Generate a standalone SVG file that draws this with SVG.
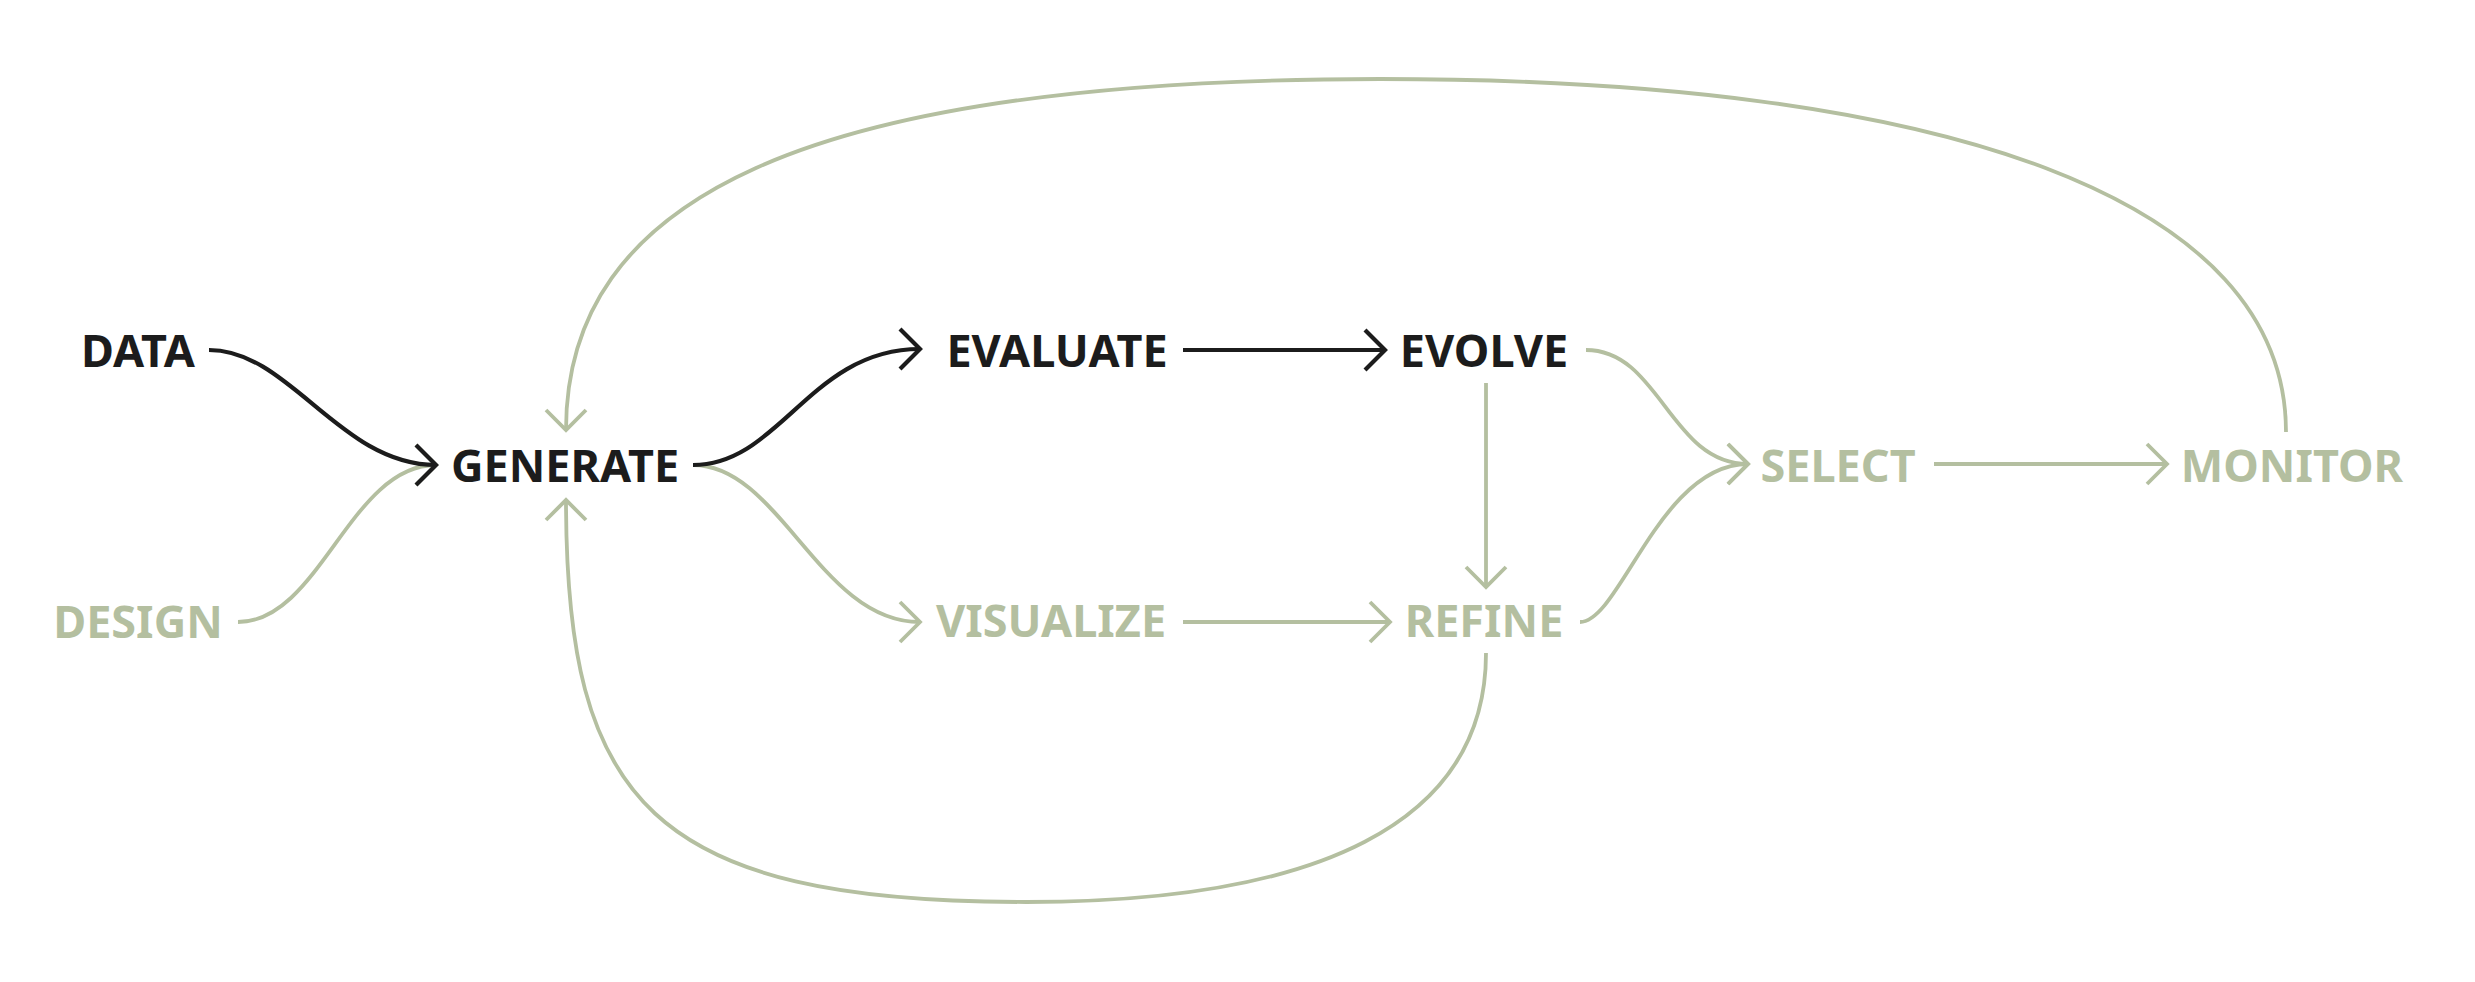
<svg xmlns="http://www.w3.org/2000/svg" width="2475" height="982" viewBox="0 0 2475 982">
<style>
  .lbl { font-family: "Noto Sans", "Open Sans", "DejaVu Sans", sans-serif; font-weight: 700; font-size: 45px; text-anchor: middle; }
  .dark { fill: #1c1c1c; }
  .pale { fill: #b4bfa0; }
  .c { fill: none; stroke-linecap: butt; }
  .cd { stroke: #1c1c1c; stroke-width: 4.2; marker-end: url(#ad); }
  .cg { stroke: #b4bfa0; stroke-width: 3.8; marker-end: url(#ag); }
</style>
<defs>
  <marker id="ad" markerUnits="userSpaceOnUse" markerWidth="50" markerHeight="50" refX="0" refY="0" orient="auto" overflow="visible" viewBox="-25 -25 50 50">
    <path d="M-20,-20 L0,0 L-20,20" fill="none" stroke="#1c1c1c" stroke-width="4.2"/>
  </marker>
  <marker id="ag" markerUnits="userSpaceOnUse" markerWidth="50" markerHeight="50" refX="0" refY="0" orient="auto" overflow="visible" viewBox="-25 -25 50 50">
    <path d="M-20,-20 L0,0 L-20,20" fill="none" stroke="#b4bfa0" stroke-width="3.8"/>
  </marker>
</defs>
<rect width="2475" height="982" fill="#ffffff"/>
<g id="connectors">
  <path id="e-monitor-generate" class="c cg" d="M2286,432 C2286,200 1950,79 1380,79 C800,79 566,200 566,430"/>
  <path id="e-refine-generate" class="c cg" d="M1486,653 C1486,825 1315,902 1026,902 C650,902 566,800 566,500"/>
  <path id="e-design-generate" class="c cg" d="M238,622 C320,622 350,465 436,465"/>
  <path id="e-data-generate" class="c cd" d="M209,350 C290,350 340,465 436,465"/>
  <path id="e-generate-visualize" class="c cg" d="M693,465 C780,465 820,622 920,622"/>
  <path id="e-generate-evaluate" class="c cd" d="M693,465 C780,465 810,349 920,349"/>
  <path id="e-evaluate-evolve" class="c cd" d="M1183,350 L1385,350"/>
  <path id="e-visualize-refine" class="c cg" d="M1183,622 L1390,622"/>
  <path id="e-evolve-refine" class="c cg" d="M1486,383 L1486,587"/>
  <path id="e-evolve-select" class="c cg" d="M1586,350 C1660,350 1670,464 1748,464"/>
  <path id="e-refine-select" class="c cg" d="M1580,622 C1620,622 1660,464 1748,464"/>
  <path id="e-select-monitor" class="c cg" d="M1934,464 L2167,464"/>
</g>
<g id="n-data"><text class="lbl dark" x="138" y="367">DATA</text></g>
<g id="n-design"><text class="lbl pale" x="138" y="638">DESIGN</text></g>
<g id="n-generate"><text class="lbl dark" x="565" y="482">GENERATE</text></g>
<g id="n-evaluate"><text class="lbl dark" x="1057" y="367">EVALUATE</text></g>
<g id="n-visualize"><text class="lbl pale" x="1051" y="637">VISUALIZE</text></g>
<g id="n-evolve"><text class="lbl dark" x="1484" y="367">EVOLVE</text></g>
<g id="n-refine"><text class="lbl pale" x="1484" y="637">REFINE</text></g>
<g id="n-select"><text class="lbl pale" x="1838" y="482">SELECT</text></g>
<g id="n-monitor"><text class="lbl pale" x="2292" y="482">MONITOR</text></g>
</svg>
